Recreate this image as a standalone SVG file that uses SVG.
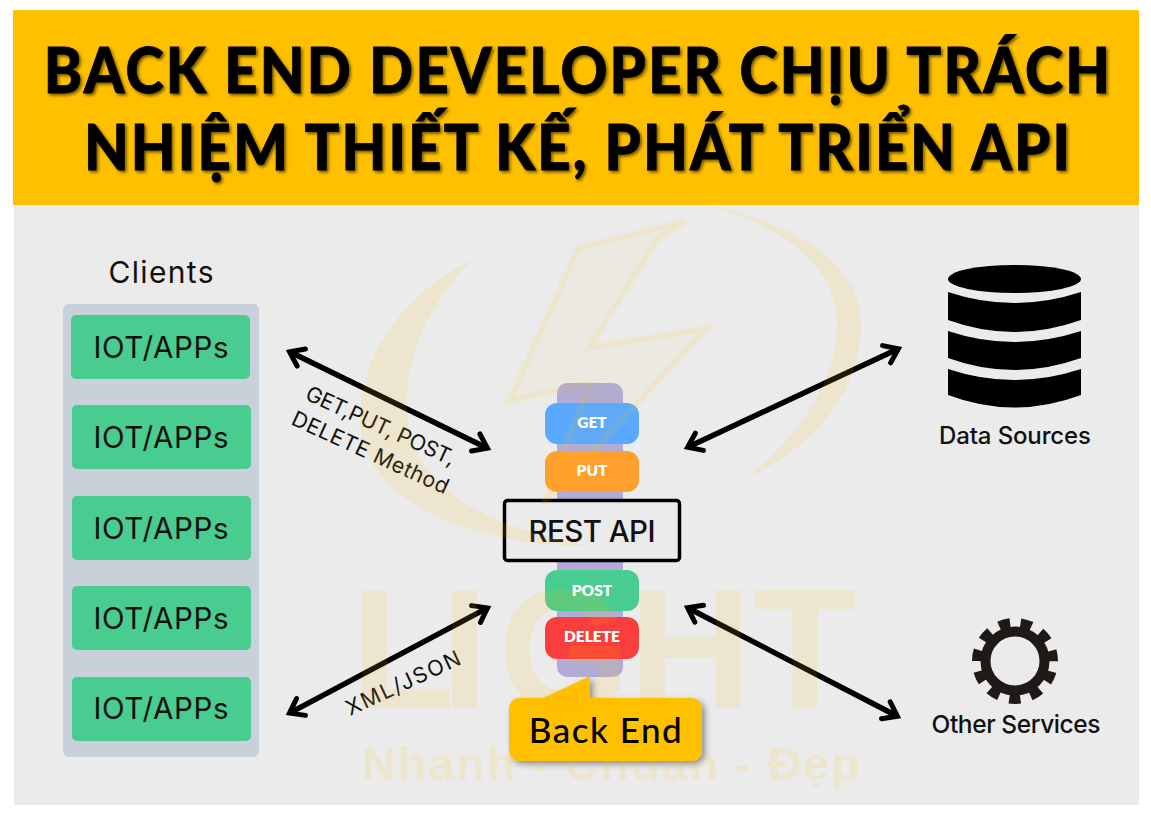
<svg xmlns="http://www.w3.org/2000/svg" width="1151" height="817" viewBox="0 0 1151 817">
<style>
.t{font-family:"Inter","Noto Sans","Liberation Sans",sans-serif;fill:#111}
.title{font-family:"Lato","Noto Sans",sans-serif;font-weight:900;font-size:63px;fill:#000;stroke:#000;stroke-width:.8;text-anchor:middle;filter:url(#ts)}
.iot{font-size:29.5px;text-anchor:middle}
.green{fill:#49cc90}
.m{font-family:"Lato","Noto Sans",sans-serif;font-weight:800;font-size:15.5px;fill:#fff;text-anchor:middle}
.lab{font-size:21.5px}
.arrow{stroke:#000;stroke-width:5.500;fill:none;marker-start:url(#a);marker-end:url(#a)}
.wm{fill:#ffc000;fill-opacity:.12}
.wmt{font-family:"Liberation Sans",sans-serif;font-weight:700;fill:#ffc000;fill-opacity:.12}
</style>
<defs>
<marker id="a" refX="0" refY="0" markerWidth="1" markerHeight="1" markerUnits="userSpaceOnUse" orient="auto-start-reverse" overflow="visible">
<path d="M-13 -9.500L0 0L-13 9.500" fill="none" stroke="#000" stroke-width="5" stroke-linejoin="miter" stroke-linecap="round"/>
</marker>
<filter id="ts" x="-5%" y="-20%" width="110%" height="140%"><feDropShadow dx="2" dy="2" stdDeviation="1.5" flood-color="#000" flood-opacity=".55"/></filter>
<filter id="bs" x="-10%" y="-20%" width="125%" height="145%"><feDropShadow dx="3" dy="3" stdDeviation="3" flood-color="#000" flood-opacity=".4"/></filter>
</defs>
<rect width="1151" height="817" fill="#fff"/>
<rect x="14" y="205" width="1125" height="600" fill="#ebebeb"/>
<g id="title">
<rect x="13" y="10" width="1126" height="195" fill="#ffc000"/>
<text class="title" transform="translate(577 93) scale(.92 1)" textLength="1159" lengthAdjust="spacing">BACK END DEVELOPER CHỊU TRÁCH</text>
<text class="title" transform="translate(577 170) scale(.92 1)" textLength="1072" lengthAdjust="spacing">NHIỆM THIẾT KẾ, PHÁT TRIỂN API</text>
</g>
<g id="clients">
<rect x="63" y="304" width="196" height="453" rx="6" fill="#c8d0da"/>
<text class="t" x="161" y="283" font-size="30" text-anchor="middle" textLength="105">Clients</text>
<rect class="green" x="71" y="315" width="179" height="64" rx="5"/><text class="t iot" x="161" y="358" textLength="135">IOT/APPs</text>
<rect class="green" x="72" y="405" width="179" height="64" rx="5"/><text class="t iot" x="161" y="448" textLength="135">IOT/APPs</text>
<rect class="green" x="72" y="496" width="179" height="64" rx="5"/><text class="t iot" x="161" y="539" textLength="135">IOT/APPs</text>
<rect class="green" x="72" y="586" width="179" height="64" rx="5"/><text class="t iot" x="161" y="629" textLength="135">IOT/APPs</text>
<rect class="green" x="72" y="677" width="179" height="64" rx="5"/><text class="t iot" x="161" y="719" textLength="135">IOT/APPs</text>
</g>
<g id="rest-api">
<rect x="557" y="383" width="66" height="294" rx="10" fill="#b0acd6"/>
<rect x="545" y="403" width="94" height="41" rx="12" fill="#5aa9ff"/><text class="m" x="592" y="428">GET</text>
<rect x="545" y="451" width="94" height="41" rx="12" fill="#ffa02e"/><text class="m" x="592" y="476">PUT</text>
<rect x="504.500" y="500.500" width="175" height="60" rx="3" fill="#ebebeb" stroke="#000" stroke-width="3.500"/>
<text class="t" x="592" y="542" font-size="29.500" text-anchor="middle" font-weight="500" textLength="127">REST API</text>
<rect x="545" y="570" width="94" height="41" rx="12" fill="#49cc90"/><text class="m" x="592" y="596">POST</text>
<rect x="545" y="617" width="94" height="42" rx="12" fill="#f93e3e"/><text class="m" x="592" y="642">DELETE</text>
</g>
<g id="back-end">
<path d="M590 676V698H692a10 10 0 0 1 10 10V751a10 10 0 0 1 -10 10H519a10 10 0 0 1 -10 -10V708a10 10 0 0 1 10 -10H543Z" fill="#ffc000" filter="url(#bs)"/>
<text x="606" y="743" font-family="Lato,'Noto Sans',sans-serif" font-size="35" font-weight="500" letter-spacing="1.500" text-anchor="middle" fill="#000">Back End</text>
</g>
<g id="connectors">
<line class="arrow" x1="289.600" y1="351.800" x2="487.400" y2="448.200"/>
<line class="arrow" x1="289.500" y1="713.100" x2="487.500" y2="607.900"/>
<line class="arrow" x1="687.600" y1="447.300" x2="898.400" y2="348.700"/>
<line class="arrow" x1="687.600" y1="607.800" x2="897.400" y2="716.200"/>
<text class="t lab" transform="translate(304 399) rotate(24.500)" textLength="162">GET,PUT, POST,</text>
<text class="t lab" transform="translate(290 424) rotate(24.500)" textLength="170">DELETE Method</text>
<text class="t lab" transform="translate(350 716) rotate(-25)" textLength="124">XML/JSON</text>
</g>
<g id="data-sources">
<ellipse cx="1014.500" cy="279" rx="66.500" ry="14"/>
<path d="M948 292Q1014 314 1081 292V320Q1014 344 948 320Z"/>
<path d="M948 331Q1014 353 1081 331V358Q1014 382 948 358Z"/>
<path d="M948 369Q1014 391 1081 369V395Q1014 420 948 395Z"/>
<text class="t" x="1015" y="444" font-size="24" text-anchor="middle" font-weight="500" textLength="152">Data Sources</text>
</g>
<g id="other-services">
<circle cx="1015" cy="661" r="29.500" fill="none" stroke="#1f1a17" stroke-width="10"/>
<circle cx="1015" cy="661" r="38" fill="none" stroke="#1f1a17" stroke-width="10" stroke-dasharray="11.200 10.500" stroke-dashoffset="-10.750"/>
<text class="t" x="1016" y="733" font-size="24.500" text-anchor="middle" font-weight="500" textLength="169">Other Services</text>
</g>
<g id="watermark">
<path class="wm" d="M473 259C410 290 360 350 360 420C360 490 450 545 590 546C500 530 440 500 415 450C395 400 410 320 473 259Z"/>
<path class="wm" d="M712 206C800 225 861 265 861 325C861 395 810 450 745 479C795 440 837 385 837 325C837 270 790 230 712 206Z"/>
<path d="M686 221L578 248L509 401L590 383L543 505L707 328L590 347L657 240Z" fill="#ffc000" fill-opacity=".035" stroke="#ffc000" stroke-opacity=".11" stroke-width="6"/>
<text class="wmt" y="708" font-size="170" x="351 441 498 629 753 ">LIGHT</text>
<text class="wmt" x="362" y="780" font-size="47" textLength="498" lengthAdjust="spacing" fill-opacity=".09">Nhanh - Chuẩn - Đẹp</text>
</g>
</svg>
